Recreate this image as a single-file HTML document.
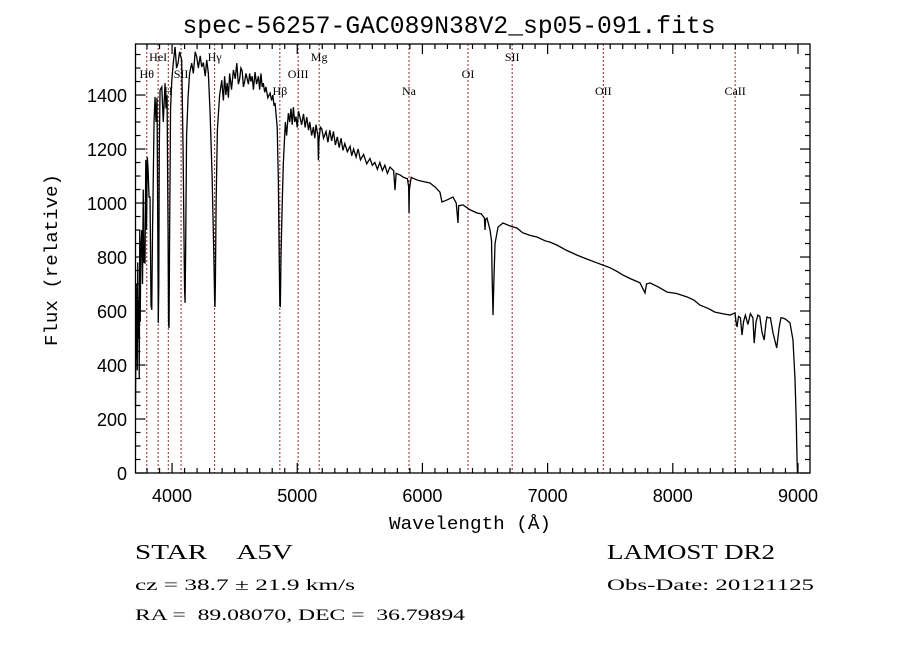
<!DOCTYPE html>
<html><head><meta charset="utf-8"><style>
html,body{margin:0;padding:0;background:#fff;width:900px;height:649px;overflow:hidden}
svg{display:block}
text{white-space:pre}
</style></head><body>
<svg id="chart" width="900" height="649" viewBox="0 0 900 649" xmlns="http://www.w3.org/2000/svg">
<rect x="0" y="0" width="900" height="649" fill="#fff"/>
<text x="449" y="33" font-family="Liberation Mono, monospace" font-size="25" text-anchor="middle" textLength="533" lengthAdjust="spacingAndGlyphs">spec-56257-GAC089N38V2_sp05-091.fits</text>
<g id="lines"></g>
<g id="spec"></g>
<g id="axes"></g>
<text x="470" y="529" font-family="Liberation Mono, monospace" font-size="18" text-anchor="middle" textLength="162" lengthAdjust="spacingAndGlyphs">Wavelength (Å)</text>
<text x="0" y="0" transform="translate(57,260) rotate(-90)" font-family="Liberation Mono, monospace" font-size="18" text-anchor="middle" textLength="172" lengthAdjust="spacingAndGlyphs">Flux (relative)</text>
<g font-family="Liberation Serif, serif" fill="#000">
<text x="135" y="559" font-size="21" textLength="158" lengthAdjust="spacingAndGlyphs">STAR&#160;&#160;&#160;&#160;A5V</text>
<text x="135" y="590" font-size="16" textLength="220" lengthAdjust="spacingAndGlyphs">cz = 38.7 ± 21.9 km/s</text>
<text x="135" y="620" font-size="16" textLength="330" lengthAdjust="spacingAndGlyphs">RA =&#160;&#160;89.08070, DEC =&#160;&#160;36.79894</text>
<text x="607" y="559" font-size="21" textLength="168" lengthAdjust="spacingAndGlyphs">LAMOST DR2</text>
<text x="607" y="590" font-size="16" textLength="207" lengthAdjust="spacingAndGlyphs">Obs-Date: 20121125</text>
</g>
</svg>
<script>
const wave = [3708,3712,3716,3718,3722,3726,3730,3734,3738,3742,3746,3750,3758,3764,3770,3776,3784,3790,3796,3802,3808,3816,3824,3832,3838,3844,3848,3856,3864,3872,3880,3886,3890,3894,3898,3904,3918,3930,3944,3952,3960,3968,3972,3976,3980,3988,3998,4010,4024,4036,4048,4060,4077,4088,4096,4100,4104,4108,4116,4128,4140,4157,4170,4185,4197,4210,4225,4237,4250,4265,4277,4290,4304,4320,4334,4340,4343,4346,4352,4362,4380,4397,
4410,4420,4430,4440,4450,4460,4475,4490,4505,4517,4530,4540,4550,4560,4570,4580,4590,4597,4610,4620,4630,4640,4650,4663,4675,4690,4700,4710,4720,4729,4740,4750,4765,4783,4795,4805,4815,4823,4840,
4849,4856,4861,4865,4870,4880,4889,4905,
4915,4929,4940,4950,4960,4969,4980,4990,5000,5010,5022,5035,5050,5063,5076,5090,5100,5115,5129,5140,5150,5165,5169,5173,5185,
5196,5210,5230,5245,5260,5275,5289,5305,5320,5335,5350,5365,5380,5400,5422,5435,5450,5470,5486,5505,5530,5555,5581,5600,5620,5640,5660,5680,5700,5720,5741,5770,
5781,5790,5821,5850,5880,5890,5893,5896,5910,5957,6000,6060,6100,6140,6156,6190,6244,6270,6284,6290,6324,6380,6436,6470,6495,6500,6505,6516,6540,6552,6558,6564,6570,6580,6604,6644,6700,6756,6800,6860,6915,6980,7020,7075,7150,7235,7300,7395,7443,7500,7560,7602,7660,7700,7738,7778,7790,7818,7880,7955,8030,8115,8170,8217,8280,8337,8400,8457,8497,8505,8513,8525,8540,8553,8565,8580,8600,8620,8640,8650,8665,8680,8695,8713,8730,8745,8753,8765,8780,8800,8830,8850,8864,8878,8900,8936,8960,8976,8986,8992,8996,9000,9002,9004];
const flux = [250,600,420,700,380,780,500,640,350,900,560,820,900,700,1050,780,778,1160,900,1170,1130,1022,1022,620,604,900,1022,1300,1393,1300,1390,900,556,700,1200,1418,1430,1300,1444,1350,1400,900,560,537,850,1350,1455,1520,1578,1500,1518,1560,1530,1200,850,680,630,800,1250,1393,1480,1518,1480,1560,1541,1500,1545,1504,1520,1470,1530,1480,1333,1100,800,640,615,700,1000,1270,1400,1455,
1380,1470,1400,1445,1390,1480,1420,1493,1460,1518,1440,1460,1500,1490,1430,1450,1480,1467,1440,1480,1450,1470,1420,1485,1440,1470,1420,1480,1430,1444,1410,1430,1390,1407,1380,1400,1360,1370,1280,
1085,800,620,615,800,1000,1148,1300,
1250,1333,1300,1350,1290,1355,1300,1320,1280,1340,1318,1290,1330,1280,1318,1270,1300,1250,1281,1240,1290,1250,1159,1230,1281,
1275,1240,1265,1225,1270,1230,1265,1215,1245,1205,1240,1195,1220,1190,1210,1175,1200,1170,1200,1160,1180,1145,1165,1140,1150,1125,1150,1120,1140,1110,1133,1120,
1048,1110,1104,1095,1090,1060,963,1050,1095,1085,1080,1074,1060,1040,1004,1010,1022,1000,926,990,993,975,963,960,945,900,940,944,900,860,700,585,700,850,911,926,915,907,890,880,874,860,855,844,825,807,795,778,770,760,745,733,720,712,704,667,700,704,690,670,665,652,640,622,610,596,590,585,593,560,541,580,575,511,560,585,550,590,575,481,560,585,580,520,493,560,578,575,575,520,463,540,575,574,570,556,493,350,196,60,0];
const lineWaves = [3798,3889,3970,4072,4340,4861,5007,5175,5893,6364,6717,7445,8498];
const lineNames = ["Hθ","HeI","H","SII","Hγ","Hβ","OIII","Mg","Na","OI","SII","OII","CaII"];
const lineRows = [1,0,2,1,0,2,1,0,2,1,0,2,2];
const xTicks = [4000,5000,6000,7000,8000,9000];
const yTicks = [0,200,400,600,800,1000,1200,1400];

const L=135.5,R=810,T=44,B=473;
const X0=3708,X1=9096,Y0=0,Y1=1589;
const sx=w=>L+(w-X0)/(X1-X0)*(R-L);
const sy=f=>B-(f-Y0)/(Y1-Y0)*(B-T);
const NS="http://www.w3.org/2000/svg";
function mk(tag,attrs,parent){const e=document.createElementNS(NS,tag);for(const k in attrs)e.setAttribute(k,attrs[k]);parent.appendChild(e);return e;}

const lg=document.getElementById('lines');
lineWaves.forEach((w,i)=>{
  const x=sx(w);
  const ln=mk('line',{x1:x,x2:x,y1:T,y2:B,stroke:'#8b2a2a','stroke-width':1,'stroke-dasharray':'2,2'},lg);
  
  
  const t=mk('text',{x:x,y:61+lineRows[i]*17,'font-family':'Liberation Serif, serif','font-size':12,'text-anchor':'middle'},lg);
  t.textContent=lineNames[i];
  
  
});

const sg=document.getElementById('spec');
let d='';
const n=Math.min(wave.length,flux.length);
for(let i=0;i<n;i++){d+=(i?'L':'M')+sx(wave[i]).toFixed(2)+','+sy(flux[i]).toFixed(2);}
const p=mk('path',{d:d,fill:'none',stroke:'#000','stroke-width':1.3,'stroke-linejoin':'miter'},sg);



const ag=document.getElementById('axes');
const fr=mk('rect',{x:L,y:T,width:R-L,height:B-T,fill:'none',stroke:'#000','stroke-width':1.3},ag);


for(let w=3800;w<=9000;w+=100){
  const x=sx(w);const major=w%1000===0;const len=major?10:5;
  mk('line',{x1:x,x2:x,y1:B,y2:B-len,stroke:'#000','stroke-width':1.2},ag);
  mk('line',{x1:x,x2:x,y1:T,y2:T+len,stroke:'#000','stroke-width':1.2},ag);
}
for(let f=0;f<=1550;f+=50){
  const y=sy(f);const major=f%200===0;const len=major?10:5;
  mk('line',{x1:L,x2:L+len,y1:y,y2:y,stroke:'#000','stroke-width':1.2},ag);
  mk('line',{x1:R,x2:R-len,y1:y,y2:y,stroke:'#000','stroke-width':1.2},ag);
}
xTicks.forEach(w=>{
  const t=mk('text',{x:sx(w),y:502,'font-family':'Liberation Sans, sans-serif','font-size':18,'text-anchor':'middle'},ag);
  t.textContent=String(w);
  
  
});
yTicks.forEach(f=>{
  const t=mk('text',{x:127,y:sy(f)+7,'font-family':'Liberation Sans, sans-serif','font-size':18,'text-anchor':'end'},ag);
  t.textContent=String(f);
  
  
});
</script>
</body></html>
